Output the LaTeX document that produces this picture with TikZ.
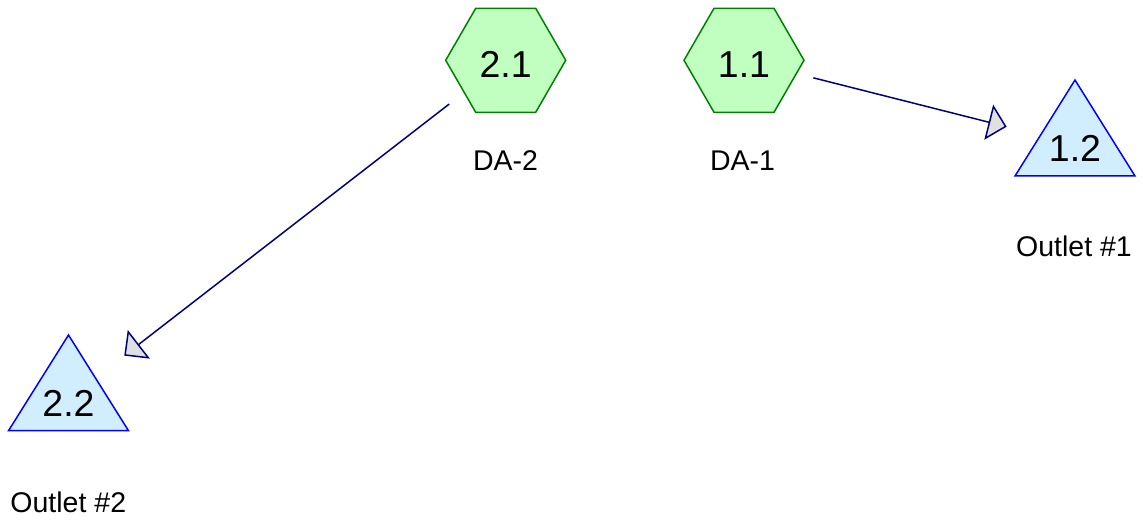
\documentclass[tikz,border=0pt]{standalone}
\usepackage{fontspec}
\setmainfont{Liberation Sans}
\usetikzlibrary{arrows.meta}
\definecolor{hexfill}{HTML}{C0FFC0}
\definecolor{hexline}{HTML}{008000}
\definecolor{trifill}{HTML}{D0EEFF}
\definecolor{triline}{HTML}{0000FF}
\definecolor{arrline}{HTML}{000080}
\definecolor{headfill}{HTML}{E0E0E0}
\tikzset{
  hexbox/.style={fill=hexfill,draw=hexline,line width=1.5pt,line join=miter},
  tribox/.style={fill=trifill,draw=triline,line width=1.5pt,line join=miter},
  numtext/.style={inner sep=0pt,anchor=base,font=\fontsize{37.5}{45}\selectfont},
  labtext/.style={inner sep=0pt,anchor=base,font=\fontsize{28.5}{34}\selectfont},
  flow/.style={draw=arrline,line width=1.5pt,
    -{Triangle[length=18.5pt,width=36pt,fill=headfill,line width=1.5pt]},
    shorten <=71.5pt, shorten >=70.5pt}
}
\begin{document}
\begin{tikzpicture}[x=1pt,y=-1pt]
\useasboundingbox (0,0) rectangle (1143,529);
% hexagon 2.1
\path[hexbox] (445.7,60.3) -- (475.7,8.3) -- (535.7,8.3) -- (565.7,60.3) -- (535.7,112.3) -- (475.7,112.3) -- cycle;
\coordinate (h2) at (505.7,60.3);
\node[numtext] (n21) at (505.7,77.3) {2.1};
\node[labtext] (l21) at (505.5,170.7) {DA-2};
% hexagon 1.1
\path[hexbox] (684,60.3) -- (714,8.3) -- (774,8.3) -- (804,60.3) -- (774,112.3) -- (714,112.3) -- cycle;
\coordinate (h1) at (744,60.3);
\node[numtext] (n11) at (744,77.3) {1.1};
\node[labtext] (l11) at (742.5,170.7) {DA-1};
% triangle 1.2
\path[tribox] (1015,176) -- (1075,80) -- (1135,176) -- cycle;
\coordinate (t1) at (1075,144);
\node[numtext] (n12) at (1075,161.7) {1.2};
\node[labtext] (l12) at (1074,256.7) {Outlet \#1};
% triangle 2.2
\path[tribox] (8.5,430.7) -- (68.5,335) -- (128.5,430.7) -- cycle;
\coordinate (t2) at (68.5,398.8);
\node[numtext] (n22) at (68.5,416.7) {2.2};
\node[labtext] (l22) at (68.3,512.7) {Outlet \#2};
% connectors
\draw[flow] (h1) -- (t1);
\draw[flow] (h2) -- (t2);
\end{tikzpicture}
\end{document}
